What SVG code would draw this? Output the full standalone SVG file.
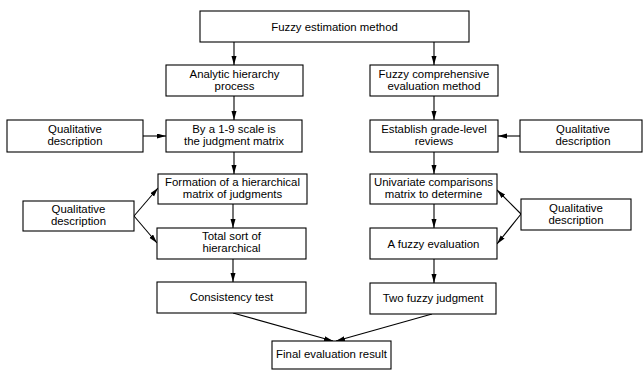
<svg xmlns="http://www.w3.org/2000/svg" width="643" height="370" viewBox="0 0 643 370">
<defs>
<style>
rect{fill:#fff;stroke:#000;stroke-width:1.1}
text{font-family:"Liberation Sans",Arial,sans-serif;font-size:11.4px;fill:#000;text-anchor:middle}
.c line{stroke:#000;stroke-width:1.1;marker-end:url(#ah)}
</style>
<marker id="ah" markerUnits="userSpaceOnUse" markerWidth="10" markerHeight="6" refX="9" refY="2.5" orient="auto">
<path d="M0,0 L9,2.5 L0,5 z" fill="#000"/>
</marker>
</defs>
<rect width="643" height="370" style="fill:#fff;stroke:none"/>
<g class="c" id="connectors">
<line x1="234" y1="42" x2="234" y2="65"/>
<line x1="434" y1="42" x2="434" y2="65"/>
<line x1="234" y1="96" x2="234" y2="120"/>
<line x1="434" y1="96" x2="434" y2="120"/>
<line x1="143" y1="136" x2="166" y2="136"/>
<line x1="520" y1="136" x2="498" y2="136"/>
<line x1="234" y1="152" x2="234" y2="174"/>
<line x1="434" y1="152" x2="434" y2="174"/>
<line x1="233" y1="204" x2="233" y2="228"/>
<line x1="434" y1="204" x2="434" y2="228"/>
<line x1="233" y1="259" x2="233" y2="282"/>
<line x1="434" y1="259" x2="434" y2="283"/>
<line x1="134" y1="216" x2="158" y2="188"/>
<line x1="134" y1="216" x2="157" y2="243"/>
<line x1="521" y1="214" x2="497" y2="190"/>
<line x1="521" y1="214" x2="497" y2="244"/>
<line x1="233" y1="313" x2="333" y2="341"/>
<line x1="432" y1="314" x2="336" y2="341"/>
</g>
<g id="n-top"><rect x="200" y="11" width="269" height="31"/><text x="334.5" y="30.5">Fuzzy estimation method</text></g>
<g id="n-ahp"><rect x="166" y="65" width="137" height="31"/><text x="234.5" y="77.5">Analytic hierarchy</text><text x="234.5" y="89.5">process</text></g>
<g id="n-fce"><rect x="370" y="65" width="128" height="31"/><text x="434" y="77.5">Fuzzy comprehensive</text><text x="434" y="89.5">evaluation method</text></g>
<g id="n-scale"><rect x="166" y="120" width="136" height="32"/><text x="234" y="132.5">By a 1-9 scale is</text><text x="234" y="144.5">the judgment matrix</text></g>
<g id="n-qual1"><rect x="7" y="120" width="136" height="32"/><text x="75" y="132.5">Qualitative</text><text x="75" y="144.5">description</text></g>
<g id="n-grade"><rect x="370" y="120" width="128" height="32"/><text x="434" y="132.5">Establish grade-level</text><text x="434" y="144.5">reviews</text></g>
<g id="n-qual2"><rect x="520" y="120" width="122" height="32"/><text x="583" y="132.5">Qualitative</text><text x="583" y="144.5">description</text></g>
<g id="n-form"><rect x="158" y="174" width="149" height="30"/><text x="232.5" y="186">Formation of a hierarchical</text><text x="232.5" y="198">matrix of judgments</text></g>
<g id="n-qual3"><rect x="23" y="201" width="111" height="30"/><text x="78.5" y="213">Qualitative</text><text x="78.5" y="225">description</text></g>
<g id="n-total"><rect x="157" y="228" width="149" height="31"/><text x="231.5" y="240">Total sort of</text><text x="231.5" y="252">hierarchical</text></g>
<g id="n-cons"><rect x="157" y="282" width="149" height="31"/><text x="231.5" y="301">Consistency test</text></g>
<g id="n-uni"><rect x="370" y="174" width="127" height="30"/><text x="433.5" y="186">Univariate comparisons</text><text x="433.5" y="198">matrix to determine</text></g>
<g id="n-qual4"><rect x="521" y="199" width="110" height="31"/><text x="576" y="211.5">Qualitative</text><text x="576" y="223.5">description</text></g>
<g id="n-afe"><rect x="370" y="228" width="127" height="31"/><text x="433.5" y="247.5">A fuzzy evaluation</text></g>
<g id="n-two"><rect x="370" y="283" width="126" height="31"/><text x="433" y="302">Two fuzzy judgment</text></g>
<g id="n-final"><rect x="272" y="341" width="119" height="28"/><text x="331.5" y="357.5">Final evaluation result</text></g>
</svg>
